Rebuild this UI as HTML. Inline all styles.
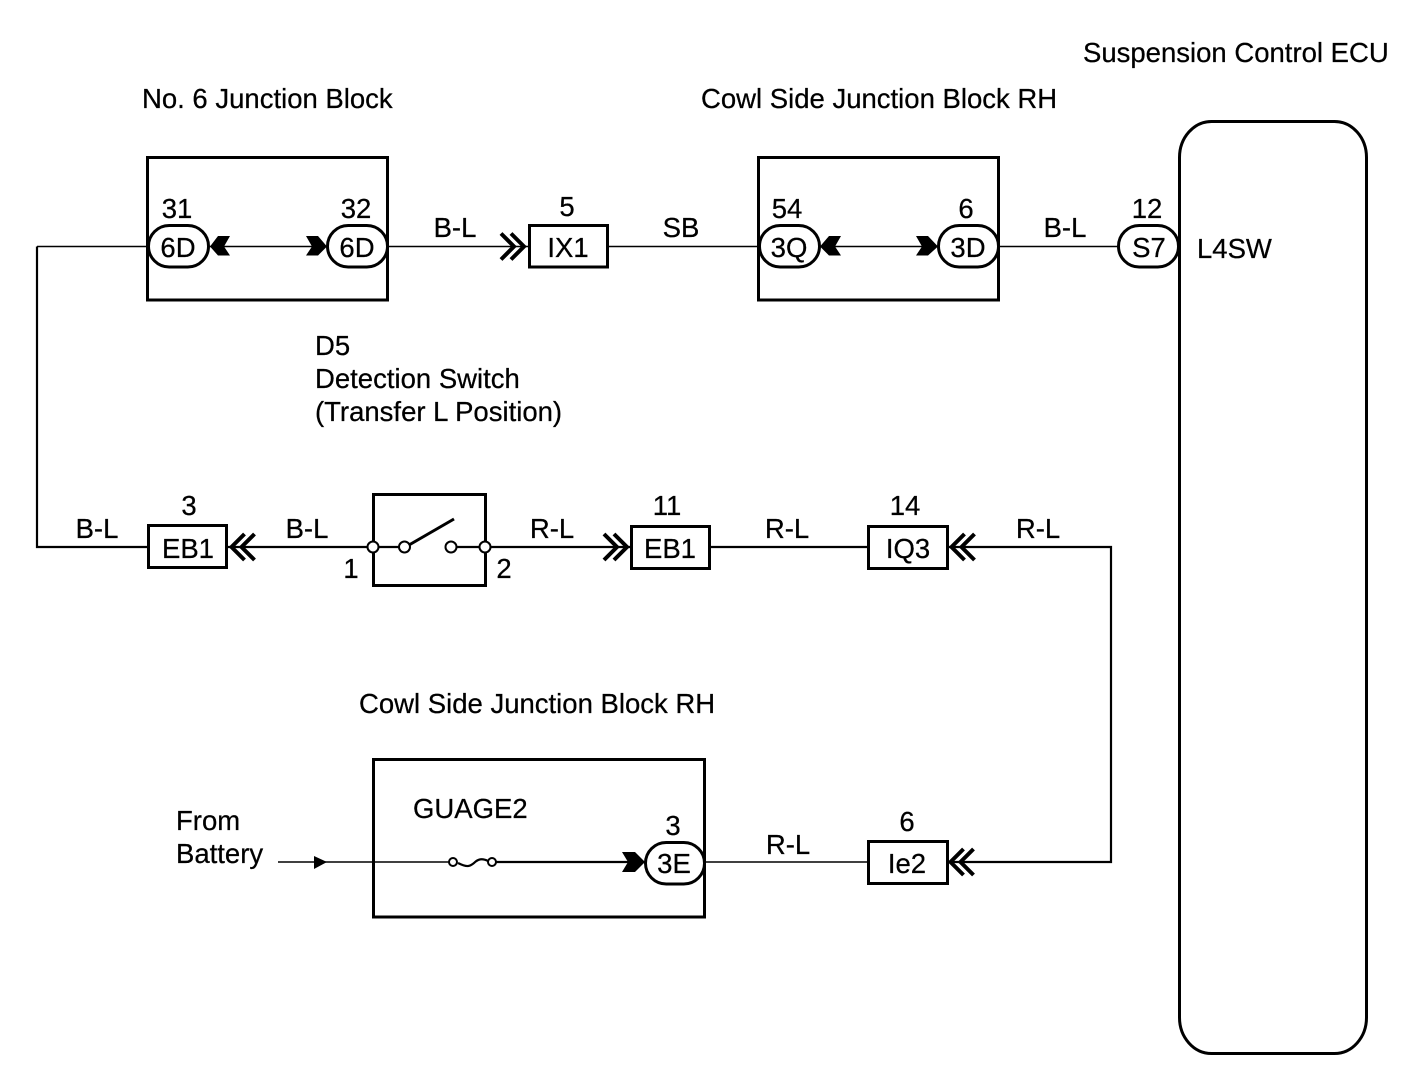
<!DOCTYPE html>
<html><head><meta charset="utf-8"><style>
html,body{margin:0;padding:0;background:#fff;width:1408px;height:1088px;overflow:hidden}
svg{display:block}
text{font-family:"Liberation Sans",sans-serif;font-size:27.5px;fill:#000;stroke:#000;stroke-width:.25}
.c{text-anchor:middle}
.b{fill:#fff;stroke:#000;stroke-width:3}
.w{fill:none;stroke:#000;stroke-width:2.2}
.t{fill:none;stroke:#000;stroke-width:1.6}
.k{fill:none;stroke:#000;stroke-width:3}
.h{fill:none;stroke:#000;stroke-width:4}
.d{fill:#000}
.o{fill:#fff;stroke:#000;stroke-width:2}
</style></head><body>
<svg width="1408" height="1088" viewBox="0 0 1408 1088" xmlns="http://www.w3.org/2000/svg">
<rect width="1408" height="1088" fill="#fff"/>

<!-- wires -->
<path class="t" d="M37 246.500H1120"/>
<path class="w" d="M37 246.500V547H150"/>
<path class="w" d="M227 547H373H400M456 547H486H632M710 547H868M948 547H1111V862H948"/>
<path class="t" d="M868 862H705M278 862H450"/>
<path class="w" d="M495 862H645"/>

<!-- blocks -->
<rect class="k" x="147.500" y="157.500" width="240" height="142.500"/>
<rect class="k" x="758.500" y="157.500" width="240" height="142.500"/>
<rect class="k" x="373.500" y="494.500" width="112" height="91"/>
<rect class="k" x="373.500" y="759.500" width="331" height="157.500"/>
<rect class="k" x="1179.500" y="121.500" width="187" height="932" rx="32" ry="36"/>

<!-- ovals -->
<rect class="b" x="148.500" y="225.500" width="60" height="41.500" rx="20.700"/>
<rect class="b" x="327.500" y="225.500" width="60" height="41.500" rx="20.700"/>
<rect class="b" x="759.500" y="225.500" width="60" height="41.500" rx="20.700"/>
<rect class="b" x="938.500" y="225.500" width="60" height="41.500" rx="20.700"/>
<rect class="b" x="1118.500" y="225.500" width="60" height="41.500" rx="20.700"/>
<rect class="b" x="645.500" y="842.500" width="59" height="41.500" rx="20.700"/>

<!-- connector boxes -->
<rect class="b" x="529.500" y="225.500" width="78" height="41.500"/>
<rect class="b" x="148.500" y="525.500" width="78" height="42"/>
<rect class="b" x="631.500" y="526.500" width="78" height="42"/>
<rect class="b" x="868.500" y="526.500" width="79" height="42"/>
<rect class="b" x="868.500" y="841.500" width="79" height="42"/>

<!-- filled arrows -->
<polygon class="d" points="210,246.500 218,236 230,236 224,246.500 230,255.500 218,255.500"/>
<polygon class="d" points="306,236 318,236 327,246.500 318,255.500 306,255.500 312,246.500"/>
<polygon class="d" points="820,246.500 829,236 841,236 835,246.500 841,255.500 829,255.500"/>
<polygon class="d" points="916,236 928,236 938,246.500 928,255.500 916,255.500 922,246.500"/>
<polygon class="d" points="622,852 635,852 645,862 635,872 622,872 628,862"/>
<polygon class="d" points="314,856 327,862 314,869"/>

<!-- chevrons -->
<path class="h" d="M501 233.500L514 246.500L501 259.500M511 233.500L524 246.500L511 259.500"/>
<path class="h" d="M244.500 534L231.500 547L244.500 560M254.500 534L241.500 547L254.500 560"/>
<path class="h" d="M604 534L617 547L604 560M614 534L627 547L614 560"/>
<path class="h" d="M964.500 534L951.500 547L964.500 560M974.500 534L961.500 547L974.500 560"/>
<path class="h" d="M963.500 849L950.500 862L963.500 875M973.500 849L960.500 862L973.500 875"/>

<!-- switch -->
<path class="k" d="M409 545L454 519"/>
<circle class="o" cx="373" cy="547" r="5.500"/>
<circle class="o" cx="404.500" cy="547" r="5.500"/>
<circle class="o" cx="451" cy="547" r="5.500"/>
<circle class="o" cx="485" cy="547" r="5.500"/>

<!-- fuse -->
<rect x="458" y="856" width="30" height="12" fill="#fff"/>
<path class="w" d="M458 863C468 868 470 866 474 863C478 859 482 858 488 861"/>
<circle class="o" cx="453" cy="862" r="4"/>
<circle class="o" cx="492" cy="862" r="4"/>

<!-- labels -->
<text x="1083" y="62">Suspension Control ECU</text>
<text x="142" y="108">No. 6 Junction Block</text>
<text x="701" y="108">Cowl Side Junction Block RH</text>
<text x="315" y="355">D5</text>
<text x="315" y="388">Detection Switch</text>
<text x="315" y="421">(Transfer L Position)</text>
<text x="359" y="713">Cowl Side Junction Block RH</text>
<text x="413" y="818">GUAGE2</text>
<text x="176" y="830">From</text>
<text x="176" y="863">Battery</text>
<text x="1197" y="258">L4SW</text>

<text class="c" x="177" y="218">31</text>
<text class="c" x="356" y="218">32</text>
<text class="c" x="567" y="216">5</text>
<text class="c" x="787" y="218">54</text>
<text class="c" x="966" y="218">6</text>
<text class="c" x="1147" y="218">12</text>
<text class="c" x="189" y="515">3</text>
<text class="c" x="667" y="515">11</text>
<text class="c" x="905" y="515">14</text>
<text class="c" x="673" y="835">3</text>
<text class="c" x="907" y="831">6</text>
<text class="c" x="351" y="578">1</text>
<text class="c" x="504" y="578">2</text>

<text class="c" x="178" y="257">6D</text>
<text class="c" x="357" y="257">6D</text>
<text class="c" x="789" y="257">3Q</text>
<text class="c" x="968" y="257">3D</text>
<text class="c" x="1149" y="257">S7</text>
<text class="c" x="674" y="873">3E</text>
<text class="c" x="568" y="257">IX1</text>
<text class="c" x="188" y="558">EB1</text>
<text class="c" x="670" y="558">EB1</text>
<text class="c" x="908" y="558">IQ3</text>
<text class="c" x="907" y="873">Ie2</text>

<text class="c" x="455" y="237">B-L</text>
<text class="c" x="681" y="237">SB</text>
<text class="c" x="1065" y="237">B-L</text>
<text class="c" x="97" y="538">B-L</text>
<text class="c" x="307" y="538">B-L</text>
<text class="c" x="552" y="538">R-L</text>
<text class="c" x="787" y="538">R-L</text>
<text class="c" x="1038" y="538">R-L</text>
<text class="c" x="788" y="854">R-L</text>
</svg>
</body></html>
